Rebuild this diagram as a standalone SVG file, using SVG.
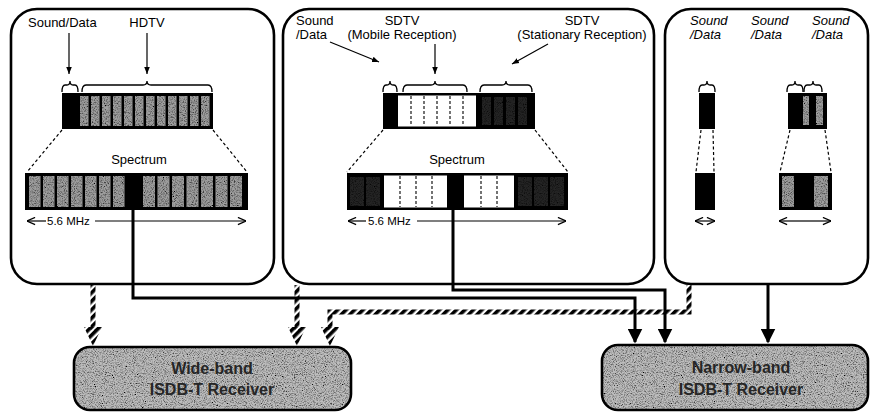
<svg xmlns="http://www.w3.org/2000/svg" width="873" height="414" viewBox="0 0 873 414">
  <style>
    .frame { fill: #fff; stroke: #000; stroke-width: 2.6; }
    .lbl { font-family: "Liberation Sans", Arial, sans-serif; font-size: 13px; fill: #000; }
    .it { font-style: italic; }
    .mhz { font-family: "Liberation Sans", Arial, sans-serif; font-size: 11.5px; fill: #000; }
    .rx { font-family: "Liberation Sans", Arial, sans-serif; font-size: 16px; font-weight: bold; fill: #262626; text-anchor: middle; }
    .thin { fill: none; stroke: #000; stroke-width: 1.2; }
    .brace { fill: none; stroke: #000; stroke-width: 1.3; }
    .dash { fill: none; stroke: #000; stroke-width: 1.2; stroke-dasharray: 3 2.5; }
    .cell { fill: none; stroke: #000; stroke-width: 1.1; stroke-dasharray: 3 2; }
    .wire { fill: none; stroke: #000; stroke-width: 3; }
    .hatch { fill: none; stroke: url(#stripes); stroke-width: 5; }
    .col { fill: #9e9e9e; }
    .faint { fill: #5a5a5a; }
  </style>
  <defs>
    <pattern id="stripes" patternUnits="userSpaceOnUse" width="6" height="6" patternTransform="rotate(-45)">
      <rect x="0" y="0" width="6" height="3.6" fill="#000"/>
    </pattern>
    <filter id="grain" x="0" y="0" width="100%" height="100%">
      <feTurbulence type="fractalNoise" baseFrequency="0.9" numOctaves="2" seed="7" result="noise"/>
      <feColorMatrix in="noise" type="matrix" values="0 0 0 0 0  0 0 0 0 0  0 0 0 0 0  -2.4 0 0 0 1.4" result="spots"/>
      <feComposite in="spots" in2="SourceGraphic" operator="in" result="clip"/>
      <feMerge><feMergeNode in="SourceGraphic"/><feMergeNode in="clip"/></feMerge>
    </filter>
    <marker id="ah" viewBox="0 0 10 10" refX="10" refY="5" markerWidth="7" markerHeight="7" markerUnits="userSpaceOnUse" orient="auto">
      <path d="M0,1 L10,5 L0,9 z" fill="#000"/>
    </marker>
    <marker id="oh" viewBox="0 0 10 10" refX="10" refY="5" markerWidth="9" markerHeight="9" markerUnits="userSpaceOnUse" orient="auto-start-reverse">
      <path d="M1,1 L10,5 L1,9" fill="none" stroke="#000" stroke-width="1.4"/>
    </marker>
    <marker id="bh" viewBox="0 0 10 10" refX="9" refY="5" markerWidth="15" markerHeight="15" markerUnits="userSpaceOnUse" orient="auto">
      <path d="M0,0 L10,5 L0,10 z" fill="#000"/>
    </marker>
  </defs>

  <!-- Panel 1: HDTV + sound/data, wide-band -->
  <g id="panel-hdtv">
    <rect class="frame" x="11" y="9" width="263" height="275" rx="26"/>
    <text class="lbl" x="28" y="27">Sound/Data</text>
    <text class="lbl" x="147" y="27" text-anchor="middle">HDTV</text>
    <line class="thin" x1="69" y1="33" x2="69" y2="74" marker-end="url(#ah)"/>
    <line class="thin" x1="147" y1="33" x2="147" y2="74" marker-end="url(#ah)"/>
    <path class="brace" d="M62,92 Q62,85 65,85 L67,85 Q70,85 70,81 Q70,85 73,85 L75,85 Q78,85 78,92"/>
    <path class="brace" d="M82,92 Q82,85 86,85 L143,85 Q147,85 147,81 Q147,85 151,85 L208,85 Q212,85 212,92"/>
    <rect x="62" y="93" width="151" height="36" fill="#000"/>
    <g filter="url(#grain)">
      <rect class="col" x="80" y="96" width="8.5" height="30"/>
      <rect class="col" x="91" y="96" width="8.5" height="30"/>
      <rect class="col" x="102" y="96" width="8.5" height="30"/>
      <rect class="col" x="113" y="96" width="8.5" height="30"/>
      <rect class="col" x="124" y="96" width="8.5" height="30"/>
      <rect class="col" x="135" y="96" width="8.5" height="30"/>
      <rect class="col" x="146" y="96" width="8.5" height="30"/>
      <rect class="col" x="157" y="96" width="8.5" height="30"/>
      <rect class="col" x="168" y="96" width="8.5" height="30"/>
      <rect class="col" x="179" y="96" width="8.5" height="30"/>
      <rect class="col" x="190" y="96" width="8.5" height="30"/>
      <rect class="col" x="201" y="96" width="8.5" height="30"/>
    </g>
    <line class="dash" x1="62" y1="130" x2="27" y2="172"/>
    <line class="dash" x1="213" y1="130" x2="247" y2="172"/>
    <text class="lbl" x="139" y="164" text-anchor="middle">Spectrum</text>
    <rect x="25" y="173" width="223" height="37" fill="#000"/>
    <g filter="url(#grain)">
      <rect class="col" x="29" y="176" width="11.5" height="31"/>
      <rect class="col" x="43" y="176" width="11.5" height="31"/>
      <rect class="col" x="57" y="176" width="11.5" height="31"/>
      <rect class="col" x="71" y="176" width="11.5" height="31"/>
      <rect class="col" x="85" y="176" width="11.5" height="31"/>
      <rect class="col" x="99" y="176" width="11.5" height="31"/>
      <rect class="col" x="113" y="176" width="11.5" height="31"/>
      <rect class="col" x="143" y="176" width="12" height="31"/>
      <rect class="col" x="157.5" y="176" width="12" height="31"/>
      <rect class="col" x="172" y="176" width="12" height="31"/>
      <rect class="col" x="186.5" y="176" width="12" height="31"/>
      <rect class="col" x="201" y="176" width="12" height="31"/>
      <rect class="col" x="215.5" y="176" width="12" height="31"/>
      <rect class="col" x="230" y="176" width="12" height="31"/>
    </g>
    <line class="thin" x1="46" y1="221" x2="27" y2="221" marker-end="url(#oh)"/>
    <line class="thin" x1="95" y1="221" x2="246" y2="221" marker-end="url(#oh)"/>
    <text class="mhz" x="47" y="225">5.6 MHz</text>
  </g>

  <!-- Panel 2: SDTV mobile + stationary, wide-band -->
  <g id="panel-sdtv">
    <rect class="frame" x="283" y="9" width="371" height="275" rx="26"/>
    <text class="lbl" x="296" y="25">Sound</text>
    <text class="lbl" x="296" y="39">/Data</text>
    <text class="lbl" x="402" y="25" text-anchor="middle">SDTV</text>
    <text class="lbl" x="402" y="39" text-anchor="middle">(Mobile Reception)</text>
    <text class="lbl" x="582" y="25" text-anchor="middle">SDTV</text>
    <text class="lbl" x="582" y="39" text-anchor="middle">(Stationary Reception)</text>
    <line class="thin" x1="330" y1="42" x2="379" y2="62" marker-end="url(#ah)"/>
    <line class="thin" x1="435" y1="44" x2="435" y2="74" marker-end="url(#ah)"/>
    <line class="thin" x1="548" y1="44" x2="512" y2="64" marker-end="url(#ah)"/>
    <path class="brace" d="M383,92 Q383,85 386,85 L387,85 Q390,85 390,81 Q390,85 393,85 L394,85 Q397,85 397,92"/>
    <path class="brace" d="M403,92 Q403,85 407,85 L431,85 Q435,85 435,81 Q435,85 439,85 L463,85 Q467,85 467,92"/>
    <path class="brace" d="M480,92 Q480,85 484,85 L502,85 Q506,85 506,81 Q506,85 510,85 L528,85 Q532,85 532,92"/>
    <rect x="383" y="93" width="152" height="36" fill="#000"/>
    <rect x="398" y="95.5" width="78" height="31" fill="#fff"/>
    <line class="cell" x1="411" y1="96" x2="411" y2="126"/>
    <line class="cell" x1="424" y1="96" x2="424" y2="126"/>
    <line class="cell" x1="437" y1="96" x2="437" y2="126"/>
    <line class="cell" x1="450" y1="96" x2="450" y2="126"/>
    <line class="cell" x1="463" y1="96" x2="463" y2="126"/>
    <g filter="url(#grain)" opacity="0.4">
      <rect class="faint" x="482" y="97" width="9" height="28"/>
      <rect class="faint" x="494" y="97" width="9" height="28"/>
      <rect class="faint" x="506" y="97" width="9" height="28"/>
      <rect class="faint" x="518" y="97" width="9" height="28"/>
    </g>
    <line class="dash" x1="383" y1="130" x2="347" y2="172"/>
    <line class="dash" x1="535" y1="130" x2="568" y2="172"/>
    <text class="lbl" x="457" y="164" text-anchor="middle">Spectrum</text>
    <rect x="347" y="173" width="221" height="37" fill="#000"/>
    <rect x="384" y="175.5" width="63" height="32" fill="#fff"/>
    <rect x="464" y="175.5" width="50" height="32" fill="#fff"/>
    <line class="cell" x1="400" y1="176" x2="400" y2="207"/>
    <line class="cell" x1="416" y1="176" x2="416" y2="207"/>
    <line class="cell" x1="432" y1="176" x2="432" y2="207"/>
    <line class="cell" x1="481" y1="176" x2="481" y2="207"/>
    <line class="cell" x1="497" y1="176" x2="497" y2="207"/>
    <g filter="url(#grain)" opacity="0.4">
      <rect class="faint" x="350" y="177" width="14" height="29"/>
      <rect class="faint" x="366" y="177" width="14" height="29"/>
      <rect class="faint" x="518" y="177" width="14" height="29"/>
      <rect class="faint" x="534" y="177" width="14" height="29"/>
      <rect class="faint" x="550" y="177" width="14" height="29"/>
    </g>
    <line class="thin" x1="366" y1="221" x2="348" y2="221" marker-end="url(#oh)"/>
    <line class="thin" x1="417" y1="221" x2="566" y2="221" marker-end="url(#oh)"/>
    <text class="mhz" x="368" y="225">5.6 MHz</text>
  </g>

  <!-- Panel 3: sound/data only, narrow-band -->
  <g id="panel-sound">
    <rect class="frame" x="665" y="9" width="203" height="275" rx="26"/>
    <text class="lbl it" x="690" y="25">Sound</text>
    <text class="lbl it" x="690" y="39">/Data</text>
    <text class="lbl it" x="751" y="25">Sound</text>
    <text class="lbl it" x="751" y="39">/Data</text>
    <text class="lbl it" x="812" y="25">Sound</text>
    <text class="lbl it" x="812" y="39">/Data</text>
    <path class="brace" d="M699,92 Q699,85 702,85 L704,85 Q707,85 707,81 Q707,85 710,85 L712,85 Q715,85 715,92"/>
    <rect x="699" y="93" width="16" height="36" fill="#000"/>
    <line class="dash" x1="701" y1="130" x2="696" y2="172"/>
    <line class="dash" x1="713" y1="130" x2="714" y2="172"/>
    <rect x="695" y="173" width="20" height="37" fill="#000"/>
    <line class="thin" x1="705" y1="221" x2="695" y2="221" marker-end="url(#oh)"/>
    <line class="thin" x1="705" y1="221" x2="715" y2="221" marker-end="url(#oh)"/>

    <path class="brace" d="M787,92 Q787,85 790,85 L792,85 Q795,85 795,81 Q795,85 798,85 L800,85 Q803,85 803,92"/>
    <path class="brace" d="M804,92 Q804,85 807,85 L810,85 Q813,85 813,81 Q813,85 816,85 L819,85 Q822,85 822,92"/>
    <rect x="788" y="93" width="39" height="36" fill="#000"/>
    <g filter="url(#grain)">
      <rect class="col" x="803" y="96" width="6" height="29"/>
      <rect class="col" x="816" y="96" width="7" height="29"/>
    </g>
    <line class="dash" x1="790" y1="130" x2="780" y2="172"/>
    <line class="dash" x1="825" y1="130" x2="831" y2="172"/>
    <rect x="779" y="173" width="53" height="37" fill="#000"/>
    <g filter="url(#grain)">
      <rect class="col" x="782" y="176" width="12" height="31"/>
      <rect class="col" x="814" y="176" width="14" height="31"/>
    </g>
    <line class="thin" x1="805" y1="221" x2="779" y2="221" marker-end="url(#oh)"/>
    <line class="thin" x1="805" y1="221" x2="831" y2="221" marker-end="url(#oh)"/>
  </g>

  <!-- Receivers -->
  <g id="wideband-receiver">
    <rect x="74" y="347" width="277" height="63" rx="16" fill="#bdbdbd" filter="url(#grain)"/>
    <rect x="74" y="347" width="277" height="63" rx="16" fill="none" stroke="#000" stroke-width="2.6"/>
    <text class="rx" x="212" y="374">Wide-band</text>
    <text class="rx" x="212" y="395">ISDB-T Receiver</text>
  </g>
  <g id="narrowband-receiver">
    <rect x="602" y="345" width="266" height="65" rx="16" fill="#bdbdbd" filter="url(#grain)"/>
    <rect x="602" y="345" width="266" height="65" rx="16" fill="none" stroke="#000" stroke-width="2.6"/>
    <text class="rx" x="741" y="373">Narrow-band</text>
    <text class="rx" x="741" y="395">ISDB-T Receiver</text>
  </g>

  <!-- Connectors -->
  <g id="connectors">
    <path class="wire" d="M133,210 V298 H635 V342" marker-end="url(#bh)"/>
    <path class="wire" d="M453,210 V290 H665 V342" marker-end="url(#bh)"/>
    <path class="wire" d="M768,284 V342" marker-end="url(#bh)"/>
    <path class="hatch" d="M93,285 V330"/>
    <polygon points="84,327 102,327 93,346" fill="url(#stripes)"/>
    <path class="hatch" d="M297,285 V330"/>
    <polygon points="288,327 306,327 297,346" fill="url(#stripes)"/>
    <path class="hatch" d="M689,285 V312 H330 V330"/>
    <polygon points="321,327 339,327 330,346" fill="url(#stripes)"/>
  </g>
</svg>
